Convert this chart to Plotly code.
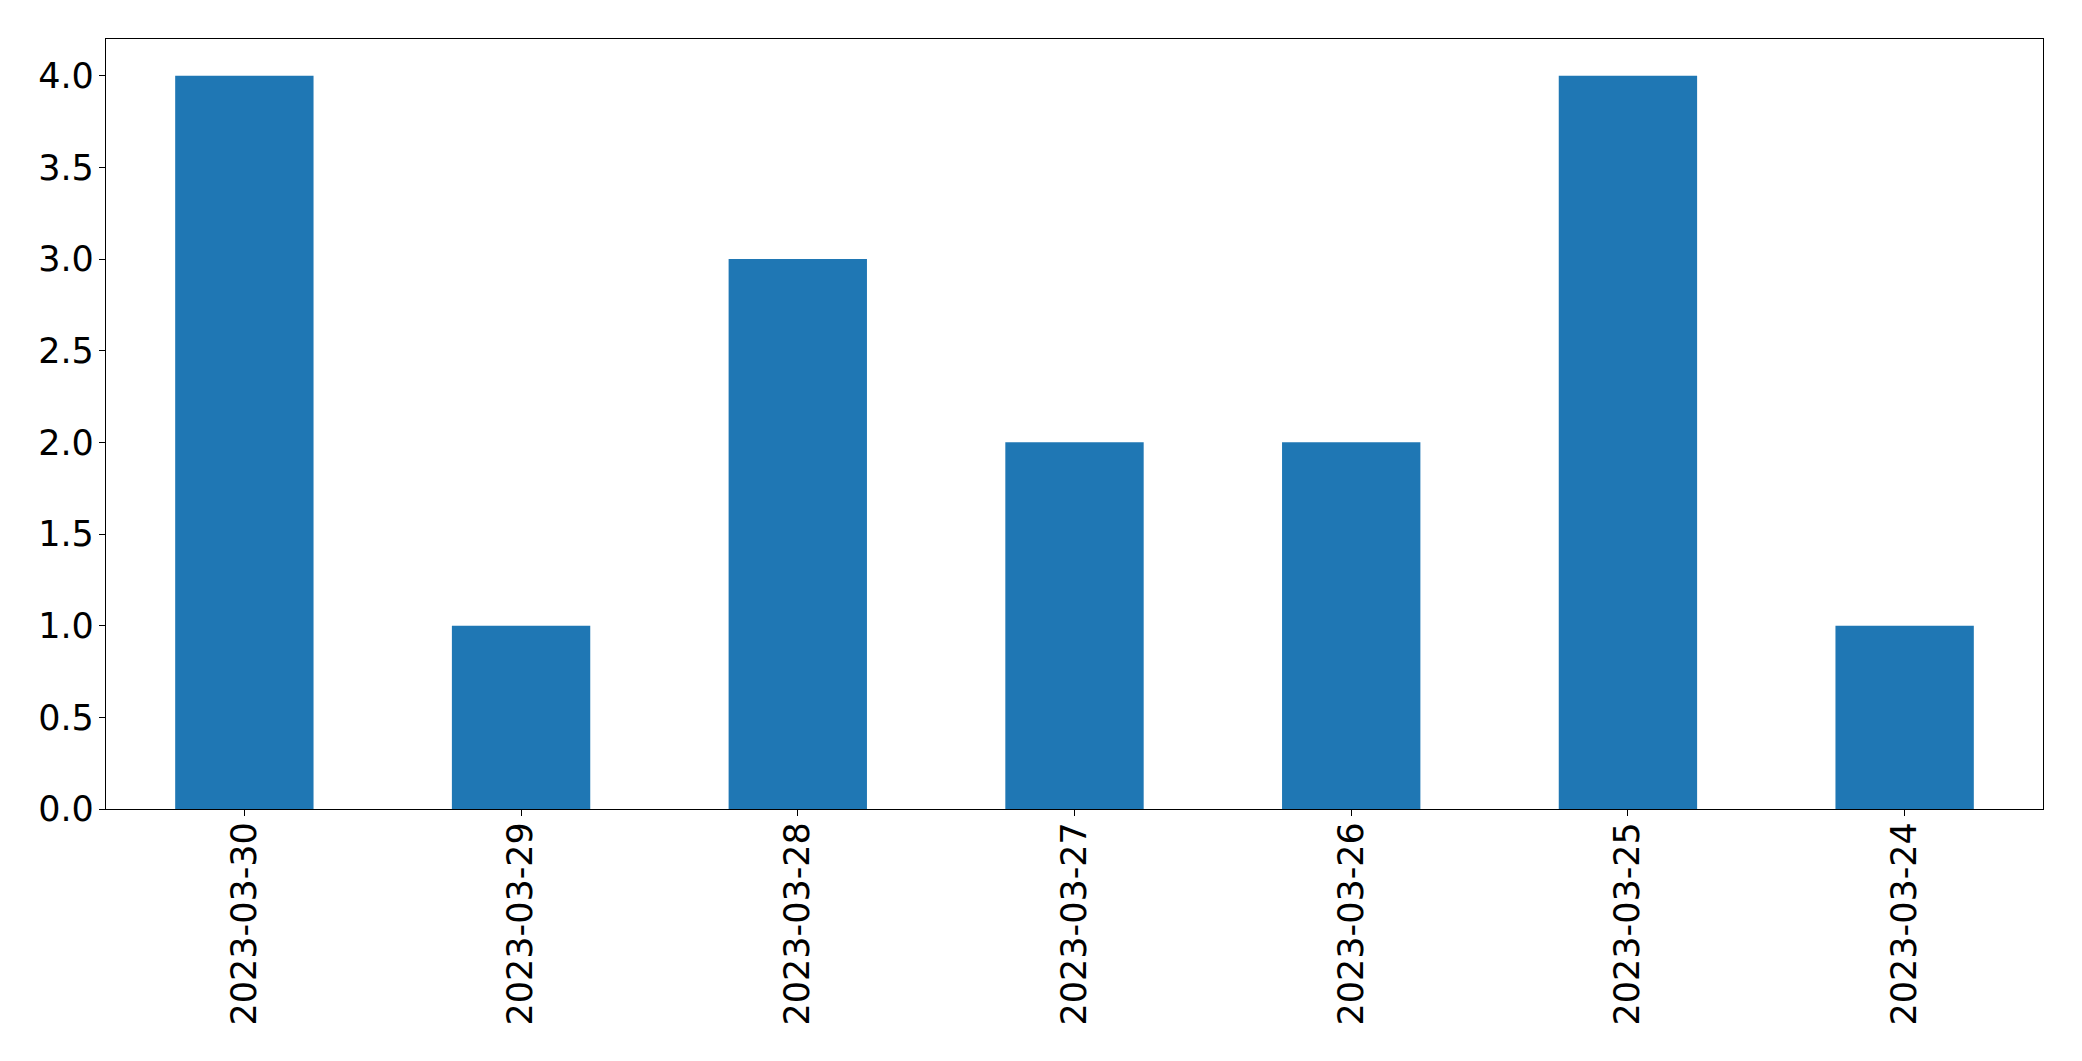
import plotly.graph_objects as go

dates = ["2023-03-30", "2023-03-29", "2023-03-28", "2023-03-27", "2023-03-26", "2023-03-25", "2023-03-24"]
counts = [4, 1, 3, 2, 2, 4, 1]

fig = go.Figure(go.Bar(x=dates, y=counts, marker=dict(color="#1f77b4", line=dict(width=0))))

font = dict(family="DejaVu Sans", size=35, color="black")
fig.update_layout(
    width=2066, height=1045,
    margin=dict(l=98, r=31, t=31, b=244),
    plot_bgcolor="white", paper_bgcolor="white",
    bargap=0.5, showlegend=False, font=font,
)
fig.update_xaxes(type="category", range=[-0.5, 6.5], tickangle=-90,
                 showline=True, linecolor="black", linewidth=1.3, mirror=True,
                 ticks="outside", ticklen=6, tickwidth=1.3, tickcolor="black",
                 ticklabelstandoff=-8,
                 showgrid=False, tickfont=font, automargin=False)
fig.update_yaxes(range=[0, 4.2], dtick=0.5, tick0=0, tickformat=".1f",
                 showline=True, linecolor="black", linewidth=1.3, mirror=True,
                 ticks="outside", ticklen=6, tickwidth=1.3, tickcolor="black",
                 ticklabelstandoff=-2,
                 showgrid=False, zeroline=False, tickfont=font, automargin=False)

fig.write_html("out.html")
